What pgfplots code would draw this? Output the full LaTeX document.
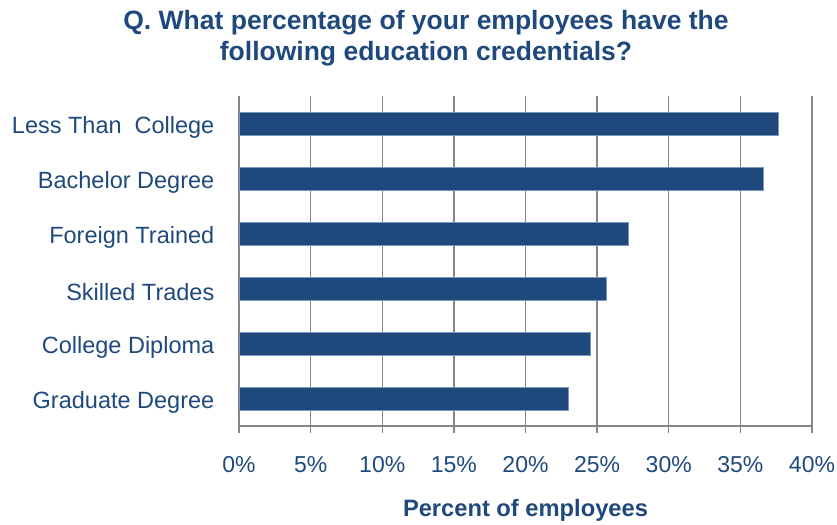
\documentclass[border=0pt]{standalone}
\usepackage{fontspec}
\setmainfont{Liberation Sans}
\usepackage{pgfplots}
\pgfplotsset{compat=1.18}
\definecolor{barblue}{RGB}{31,73,125}
\definecolor{txtblue}{RGB}{31,73,125}
\definecolor{gridgray}{RGB}{134,134,134}
\begin{document}
\begin{tikzpicture}
\useasboundingbox (-239bp,-99bp) rectangle (598bp,426bp);
\begin{axis}[
  scale only axis,
  width=573bp, height=330bp,
  xbar, bar width=23bp,
  xmin=0, xmax=40, ymin=-0.5, ymax=5.5,
  axis x line*=bottom, axis y line*=left,
  axis line style={gridgray, line width=1.3bp},
  xtick={0,5,...,40},
  /pgf/number format/assume math mode=true,
  xticklabel={\pgfmathprintnumber{\tick}\%},
  xmajorgrids, grid style={gridgray, line width=1.3bp},
  tick align=outside,
  major tick length=6.5bp,
  x tick style={gridgray, line width=1.3bp},
  ytick={0,1,2,3,4,5},
  yticklabels={Graduate Degree, College Diploma, Skilled Trades, Foreign Trained, Bachelor Degree, {Less Than\hspace{0.55em}College}},
  y tick style={draw=none},
  extra y ticks={-0.5,0.5,1.5,2.5,3.5,4.5,5.5},
  extra y tick labels={},
  extra y tick style={tick style={draw=gridgray, line width=1.3bp}},
  xticklabel style={font=\fontsize{23bp}{27bp}\selectfont, text=txtblue, anchor=base, yshift=-40bp},
  yticklabel style={font=\fontsize{23.5bp}{27bp}\selectfont, text=txtblue, anchor=east, inner sep=0pt, xshift=-18bp, yshift=-3.5bp},
  xlabel={Percent of employees},
  xlabel style={at={(axis description cs:0.5,0)}, anchor=base, yshift=-90bp, font=\fontsize{23.7bp}{27bp}\selectfont\bfseries, text=txtblue},
  clip=false,
]
\addplot[fill=barblue, draw={rgb,255:red,120;green,150;blue,190}, line width=0.5bp]
  coordinates {(22.98,0) (24.51,1) (25.66,2) (27.20,3) (36.63,4) (37.67,5)};
\end{axis}
\node[anchor=base, text=txtblue, font=\fontsize{26.5bp}{30bp}\selectfont\bfseries] at (187bp,396.5bp) {Q. What percentage of your employees have the};
\node[anchor=base, text=txtblue, font=\fontsize{26.5bp}{30bp}\selectfont\bfseries] at (187bp,365bp) {following education credentials?};
\end{tikzpicture}
\end{document}
